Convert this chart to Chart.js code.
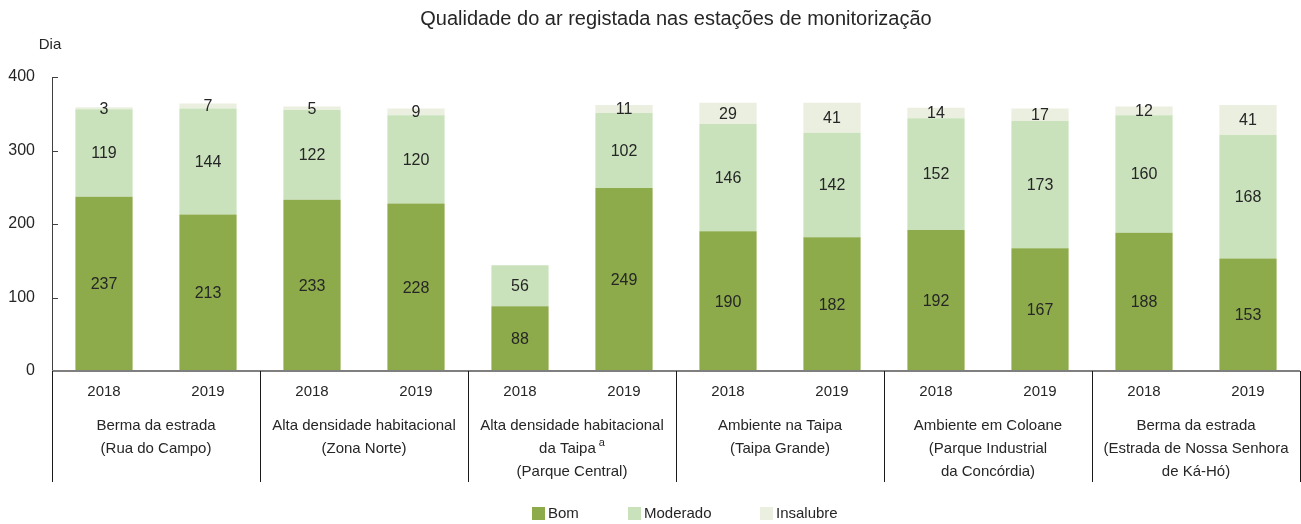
<!DOCTYPE html>
<html>
<head>
<meta charset="utf-8">
<script src="https://cdn.jsdelivr.net/npm/chart.js@4.4.0/dist/chart.umd.min.js"></script>
<style>
  html, body { margin: 0; padding: 0; background: #fff; }
  #wrap { width: 1301px; height: 524px; position: relative; }
</style>
</head>
<body>
<div id="wrap"><canvas id="airChart" width="1301" height="524"></canvas></div>
<script>
// Chart data
const years = ["2018", "2019", "2018", "2019", "2018", "2019", "2018", "2019", "2018", "2019", "2018", "2019"];
const groupNames = [
    ["Berma da estrada", "(Rua do Campo)"],
    ["Alta densidade habitacional", "(Zona Norte)"],
    ["Alta densidade habitacional", "da Taipa^a", "(Parque Central)"],
    ["Ambiente na Taipa", "(Taipa Grande)"],
    ["Ambiente em Coloane", "(Parque Industrial", "da Concórdia)"],
    ["Berma da estrada", "(Estrada de Nossa Senhora", "de Ká-Hó)"]
];
const bomDays = [237, 213, 233, 228, 88, 249, 190, 182, 192, 167, 188, 153];
const moderadoDays = [119, 144, 122, 120, 56, 102, 146, 142, 152, 173, 160, 168];
const insalubreDays = [3, 7, 5, 9, 0, 11, 29, 41, 14, 17, 12, 41];
const yTicks = [0, 100, 200, 300, 400];

const FONT = "'Liberation Sans', Arial, sans-serif";
const TEXT = "#262626";
const colors = { bom: "#8dab4b", moderado: "#c9e2bb", insalubre: "#ebefdf" };

/**
 * Draws everything Chart.js doesn't: labels, category axis, separators, legend
 */
const decorPlugin = {
    id: "decor",
    afterDatasetsDraw(chart) {
        const ctx = chart.ctx;
        const x = chart.scales.x;
        const y = chart.scales.y;
        const area = chart.chartArea;

        ctx.save();
        ctx.fillStyle = TEXT;
        ctx.textAlign = "center";
        ctx.textBaseline = "middle";

        // Value labels inside segments
        ctx.font = "16px " + FONT;
        chart.data.datasets.forEach((ds, di) => {
            const meta = chart.getDatasetMeta(di);
            meta.data.forEach((bar, i) => {
                const v = ds.data[i];
                if (!v) return;
                const mid = (bar.y + bar.base) / 2;
                ctx.fillText(String(v), bar.x, mid + 1);
            });
        });

        // Title + unit
        ctx.font = "20px " + FONT;
        ctx.fillText("Qualidade do ar registada nas estações de monitorização", 676, 19);
        ctx.font = "15px " + FONT;
        ctx.fillText("Dia", 50, 45);

        // Y ticks (inward)
        ctx.strokeStyle = "#404040";
        ctx.lineWidth = 1;
        yTicks.forEach(t => {
            const py = Math.round(y.getPixelForValue(t)) + 0.5;
            ctx.beginPath();
            ctx.moveTo(area.left, py);
            ctx.lineTo(area.left + 6, py);
            ctx.stroke();
        });

        // X axis line
        const baseY = y.getPixelForValue(0);
        ctx.strokeStyle = "#7f7f7f";
        ctx.lineWidth = 2;
        ctx.beginPath();
        ctx.moveTo(area.left, baseY);
        ctx.lineTo(area.right, baseY);
        ctx.stroke();

        // Group separators
        ctx.strokeStyle = "#1a1a1a";
        ctx.lineWidth = 1;
        const step = x.getPixelForValue(1) - x.getPixelForValue(0);
        for (let g = 0; g <= groupNames.length; g++) {
            let px = g === 0 ? area.left : x.getPixelForValue(g * 2 - 1) + step / 2;
            if (g === groupNames.length) px = area.right - 0.5;
            px = Math.round(px) + 0.5;
            ctx.beginPath();
            ctx.moveTo(px, baseY);
            ctx.lineTo(px, 482);
            ctx.stroke();
        }

        // Years
        ctx.font = "15px " + FONT;
        years.forEach((yr, i) => ctx.fillText(yr, x.getPixelForValue(i), 392));

        // Group names
        groupNames.forEach((lines, g) => {
            const cx = (x.getPixelForValue(g * 2) + x.getPixelForValue(g * 2 + 1)) / 2;
            lines.forEach((line, li) => {
                const ly = 426 + li * 23;
                if (line.endsWith("^a")) {
                    const txt = line.slice(0, -2);
                    ctx.font = "15px " + FONT;
                    const w = ctx.measureText(txt).width;
                    ctx.font = "11px " + FONT;
                    const sw = ctx.measureText("a").width + 3;
                    const start = cx - (w + sw) / 2;
                    ctx.textAlign = "left";
                    ctx.font = "15px " + FONT;
                    ctx.fillText(txt, start, ly);
                    ctx.font = "11px " + FONT;
                    ctx.fillText("a", start + w + 3, ly - 6);
                    ctx.textAlign = "center";
                    ctx.font = "15px " + FONT;
                } else {
                    ctx.fillText(line, cx, ly);
                }
            });
        });

        // Legend
        const legend = [
            { label: "Bom", color: colors.bom, x: 532 },
            { label: "Moderado", color: colors.moderado, x: 628 },
            { label: "Insalubre", color: colors.insalubre, x: 760 }
        ];
        ctx.textAlign = "left";
        ctx.font = "15px " + FONT;
        legend.forEach(item => {
            ctx.fillStyle = item.color;
            ctx.fillRect(item.x, 507, 13, 13);
            ctx.fillStyle = TEXT;
            ctx.fillText(item.label, item.x + 16, 514);
        });

        ctx.restore();
    }
};

new Chart(document.getElementById("airChart").getContext("2d"), {
    type: "bar",
    data: {
        labels: years,
        datasets: [
            { label: "Bom", data: bomDays, backgroundColor: colors.bom },
            { label: "Moderado", data: moderadoDays, backgroundColor: colors.moderado },
            { label: "Insalubre", data: insalubreDays, backgroundColor: colors.insalubre }
        ]
    },
    options: {
        responsive: false,
        animation: false,
        layout: { padding: { top: 77, bottom: 153, left: 0, right: 1 } },
        plugins: { legend: { display: false }, tooltip: { enabled: false } },
        datasets: { bar: { categoryPercentage: 1, barPercentage: 0.55 } },
        scales: {
            x: { stacked: true, display: false },
            y: {
                stacked: true,
                min: 0,
                max: 400,
                afterFit: s => { s.width = 52; },
                afterBuildTicks: s => { s.ticks = yTicks.map(v => ({ value: v })); },
                grid: { display: false, drawTicks: false },
                border: { display: true, color: "#404040", width: 1 },
                ticks: { color: TEXT, padding: 17, font: { family: FONT, size: 16 } }
            }
        }
    },
    plugins: [decorPlugin]
});
</script>
</body>
</html>
